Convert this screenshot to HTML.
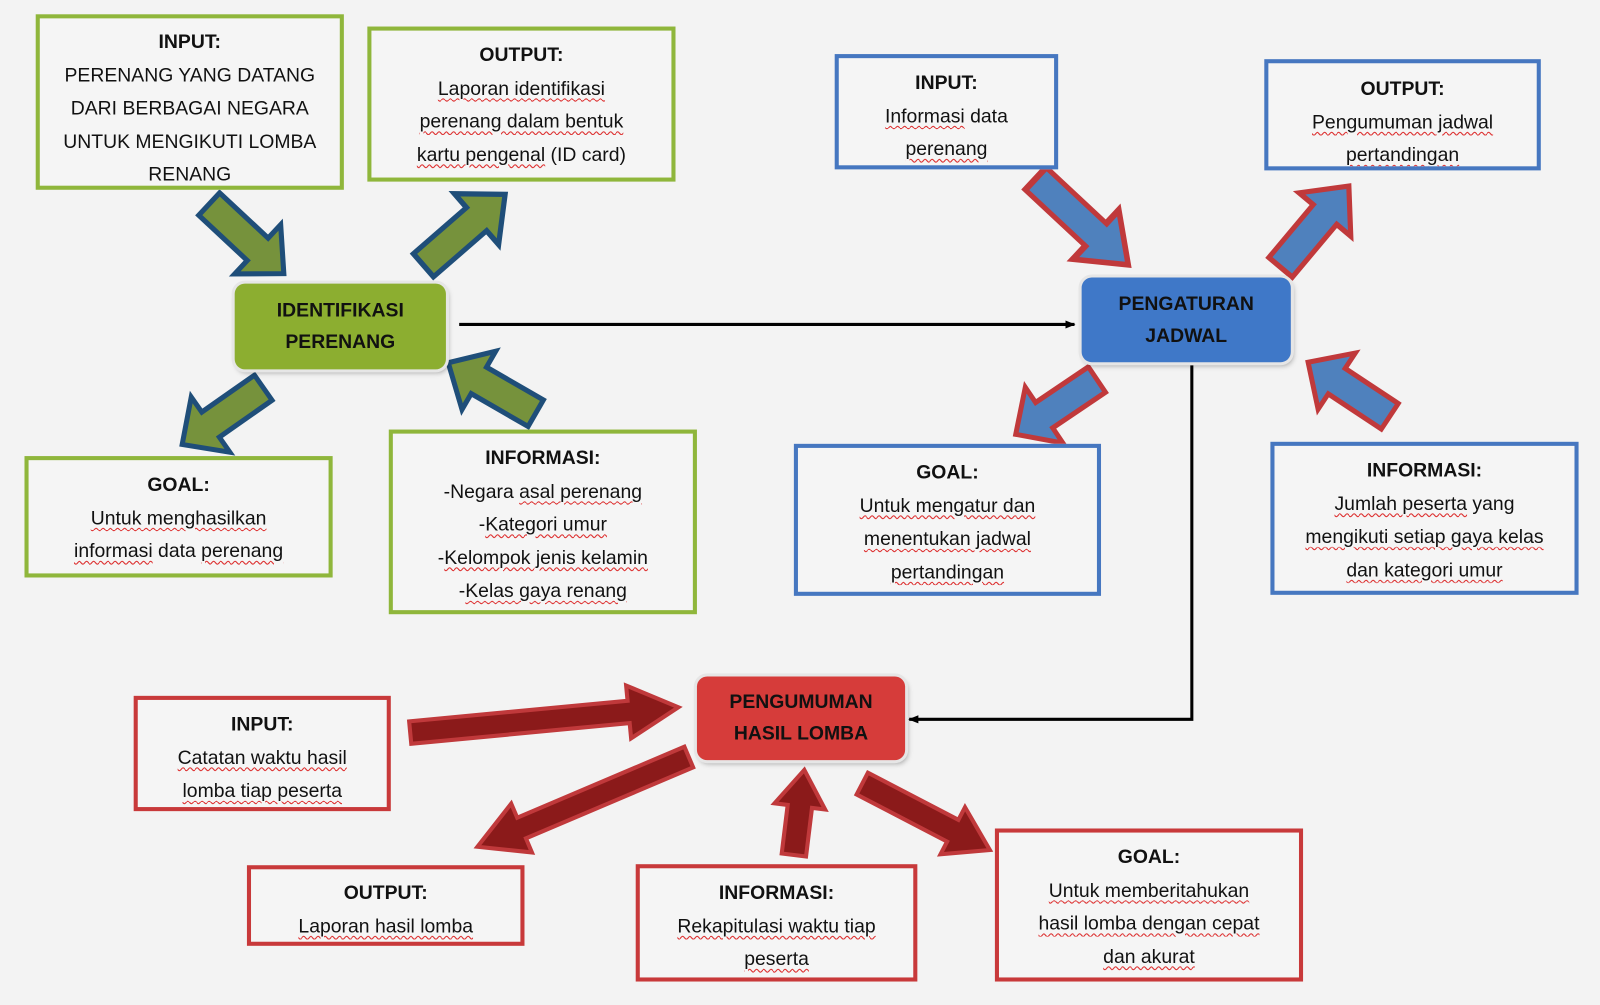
<!DOCTYPE html>
<html><head><meta charset="utf-8"><style>
html,body{margin:0;padding:0;background:#f3f3f3;overflow:hidden}
#w{position:absolute;left:0;top:0;width:1568px;height:985px;transform:scale(1.020408,1.020305);transform-origin:0 0;background:#f3f3f3;font-family:"Liberation Sans",sans-serif}
.b{position:absolute;box-sizing:border-box;background:#f5f5f5;border:4px solid;text-align:center;font-size:19px;line-height:32.5px;color:#111;overflow:hidden}
.g{border-color:#8fb63b}.bl{border-color:#4677c0}.r{border-color:#c8393a}
.b b{display:block}
.u{text-decoration:underline wavy #d33;text-decoration-thickness:1px;text-underline-offset:3px}
.n{position:absolute;box-sizing:border-box;border-radius:10px;text-align:center;font-weight:bold;font-size:19px;line-height:31px;color:#111;box-shadow:0 0 0 3px #e6e6e6,2px 3px 5px rgba(0,0,0,.35);display:flex;align-items:center;justify-content:center}
svg{position:absolute;left:0;top:0}
</style></head><body><div id="w">
<svg width="1568" height="985" viewBox="0 0 1568 985">
<defs>
<path id="A" d="M0,-15 L65,-15 L65,-33 L100,0 L65,33 L65,15 L0,15 Z"/>
<marker id="m" markerWidth="10" markerHeight="10" refX="9" refY="5" orient="auto" markerUnits="userSpaceOnUse"><path d="M0,1 L10,5 L0,9 Z" fill="#000"/></marker>
</defs>
<g fill="#76923c" stroke="#1f4e79" stroke-width="5">
<use href="#A" transform="translate(205,200) rotate(43) scale(1,1)"/>
<use href="#A" transform="translate(415,260) rotate(-41) scale(1.06,1)"/>
<use href="#A" transform="translate(258,380) rotate(145) scale(0.97,1)"/>
<use href="#A" transform="translate(525,405) rotate(210) scale(0.99,1)"/>
</g>
<g fill="#4f81bd" stroke="#c0393b" stroke-width="5">
<use href="#A" transform="translate(1015,175) rotate(43) scale(1.24,1)"/>
<use href="#A" transform="translate(1255,262) rotate(-50) scale(1.04,1)"/>
<use href="#A" transform="translate(1075,372) rotate(146) scale(0.96,1)"/>
<use href="#A" transform="translate(1362,408) rotate(213.5) scale(0.96,1)"/>
</g>
<g fill="#8b1a1a" stroke="#c0393b" stroke-width="4">
<path d="M0,-11 L215,-11 L215,-26 L264,0 L215,26 L215,11 L0,11 Z" transform="translate(402,718) rotate(-5.4)"/>
<path d="M0,-11 L178,-11 L178,-26 L225,0 L178,26 L178,11 L0,11 Z" transform="translate(675,742) rotate(157)"/>
<path d="M0,-12 L48,-12 L48,-25 L84,0 L48,25 L48,12 L0,12 Z" transform="translate(778,838) rotate(-83)"/>
<path d="M0,-12 L100,-12 L100,-26 L141,0 L100,26 L100,12 L0,12 Z" transform="translate(845,768) rotate(27.5)"/>
</g>
<g stroke="#000" stroke-width="3" fill="none">
<line x1="450" y1="318" x2="1053" y2="318" marker-end="url(#m)"/>
<polyline points="1168,358 1168,705 891,705" marker-end="url(#m)"/>
</g>
</svg>

<div class="n" style="left:230px;top:278px;width:207px;height:84px;background:#8cae30">IDENTIFIKASI<br>PERENANG</div>
<div class="n" style="left:1060px;top:272px;width:205px;height:83px;background:#3f78c8">PENGATURAN<br>JADWAL</div>
<div class="n" style="left:683px;top:663px;width:204px;height:82px;background:#d63c3a">PENGUMUMAN<br>HASIL LOMBA</div>

<div class="b g" style="left:35px;top:14px;width:302px;height:172px;padding-top:8px"><b>INPUT:</b>PERENANG YANG DATANG<br>DARI BERBAGAI NEGARA<br>UNTUK MENGIKUTI LOMBA<br>RENANG</div>
<div class="b g" style="left:360px;top:26px;width:302px;height:152px;padding-top:9px"><b>OUTPUT:</b><span class="u">Laporan identifikasi</span><br><span class="u">perenang dalam bentuk</span><br><span class="u">kartu pengenal</span> (ID card)</div>
<div class="b g" style="left:24px;top:447px;width:302px;height:119px;padding-top:9px"><b>GOAL:</b><span class="u">Untuk menghasilkan</span><br><span class="u">informasi</span> data <span class="u">perenang</span></div>
<div class="b g" style="left:381px;top:421px;width:302px;height:181px;padding-top:9px"><b>INFORMASI:</b>-Negara <span class="u">asal perenang</span><br>-<span class="u">Kategori umur</span><br>-<span class="u">Kelompok jenis kelamin</span><br>-<span class="u">Kelas gaya renang</span></div>

<div class="b bl" style="left:818px;top:53px;width:219px;height:113px;padding-top:9px"><b>INPUT:</b><span class="u">Informasi</span> data<br><span class="u">perenang</span></div>
<div class="b bl" style="left:1239px;top:58px;width:271px;height:109px;padding-top:10px"><b>OUTPUT:</b><span class="u">Pengumuman jadwal</span><br><span class="u">pertandingan</span></div>
<div class="b bl" style="left:778px;top:435px;width:301px;height:149px;padding-top:9px"><b>GOAL:</b><span class="u">Untuk mengatur dan</span><br><span class="u">menentukan jadwal</span><br><span class="u">pertandingan</span></div>
<div class="b bl" style="left:1245px;top:433px;width:302px;height:150px;padding-top:9px"><b>INFORMASI:</b><span class="u">Jumlah peserta</span> yang<br><span class="u">mengikuti setiap gaya kelas</span><br><span class="u">dan kategori umur</span></div>

<div class="b r" style="left:131px;top:682px;width:252px;height:113px;padding-top:9px"><b>INPUT:</b><span class="u">Catatan waktu hasil</span><br><span class="u">lomba tiap peserta</span></div>
<div class="b r" style="left:242px;top:848px;width:272px;height:79px;padding-top:8px"><b>OUTPUT:</b><span class="u">Laporan hasil lomba</span></div>
<div class="b r" style="left:623px;top:847px;width:276px;height:115px;padding-top:9px"><b>INFORMASI:</b><span class="u">Rekapitulasi waktu tiap</span><br><span class="u">peserta</span></div>
<div class="b r" style="left:975px;top:812px;width:302px;height:150px;padding-top:9px"><b>GOAL:</b><span class="u">Untuk memberitahukan</span><br><span class="u">hasil lomba dengan cepat</span><br><span class="u">dan akurat</span></div>
</div></body></html>
